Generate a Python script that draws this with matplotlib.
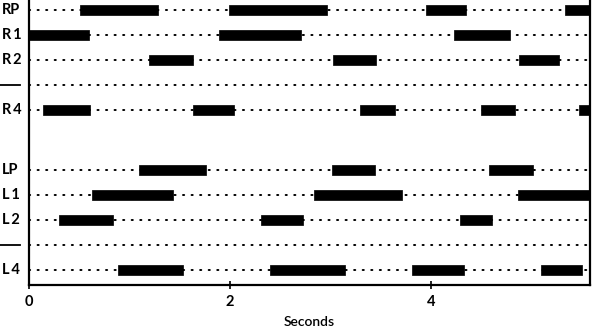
import matplotlib
matplotlib.use("Agg")
import matplotlib.pyplot as plt

# rows top to bottom, "—" rows are the unlabelled dotted ones
row_labels = ["RP", "R1", "R2", "—", "R4", "LP", "L1", "L2", "—", "L4"]
row_pos = [0, 1, 2, 3, 4, 6.4, 7.4, 8.4, 9.4, 10.4]

# burst on/off times (seconds)
RP = [(0.51, 1.28), (1.99, 2.96), (3.95, 4.35), (5.33, 5.70)]
R1 = [(0.0, 0.60), (1.89, 2.70), (4.23, 4.78)]
R2 = [(1.19, 1.63), (3.02, 3.45), (4.87, 5.27)]
R3 = []
R4 = [(0.14, 0.61), (1.63, 2.04), (3.29, 3.64), (4.49, 4.83), (5.47, 5.70)]
LP = [(1.09, 1.76), (3.01, 3.44), (4.57, 5.01)]
L1 = [(0.63, 1.43), (2.83, 3.71), (4.86, 5.70)]
L2 = [(0.30, 0.84), (2.31, 2.72), (4.29, 4.60)]
L3 = []
L4 = [(0.88, 1.53), (2.40, 3.14), (3.81, 4.33), (5.09, 5.50)]
bursts = [RP, R1, R2, R3, R4, LP, L1, L2, L3, L4]

xmax = 5.58
fam = ["Lato", "DejaVu Sans"]

fig = plt.figure(figsize=(5.97, 3.32), dpi=100)
ax = fig.add_axes([0.0486, 0.1416, 0.94, 0.8584])

for y, segs in zip(row_pos, bursts):
    ax.plot([0, xmax], [y, y], color="black", lw=1.4,
            dashes=(0.6, 3.8), dash_capstyle="round")
    ax.broken_barh([(a, b - a) for a, b in segs], (y - 0.21, 0.42),
                   facecolor="black", edgecolor="black", lw=0.5, zorder=3)

ax.set_xlim(0, xmax)
ax.set_ylim(11.0, -0.4)

ax.set_yticks([])
ax.set_xticks([0, 2, 4])
ax.set_xticklabels(["0", "2", "4"], fontsize=10.5, fontweight="bold", family=fam)
ax.tick_params(axis="x", direction="inout", length=6, width=1.2, pad=4)
ax.set_xlabel("Seconds", fontsize=10, fontweight="semibold",
              family=fam, labelpad=5)

ax.spines["top"].set_visible(False)
for s in ["left", "right", "bottom"]:
    ax.spines[s].set_linewidth(1.6)

for y, lab in zip(row_pos, row_labels):
    if lab == "—":
        # unlabelled row: a plain dash in the margin
        ax.plot([-0.29, -0.09], [y, y], color="black", lw=1.3, clip_on=False)
    else:
        ax.text(-0.27, y, lab[0] + "\u2009" + lab[1] if lab[1].isdigit() else lab,
                ha="left", va="center", fontsize=10.5,
                fontweight="bold", family=fam, clip_on=False)

fig.savefig("out.png", dpi=100)
